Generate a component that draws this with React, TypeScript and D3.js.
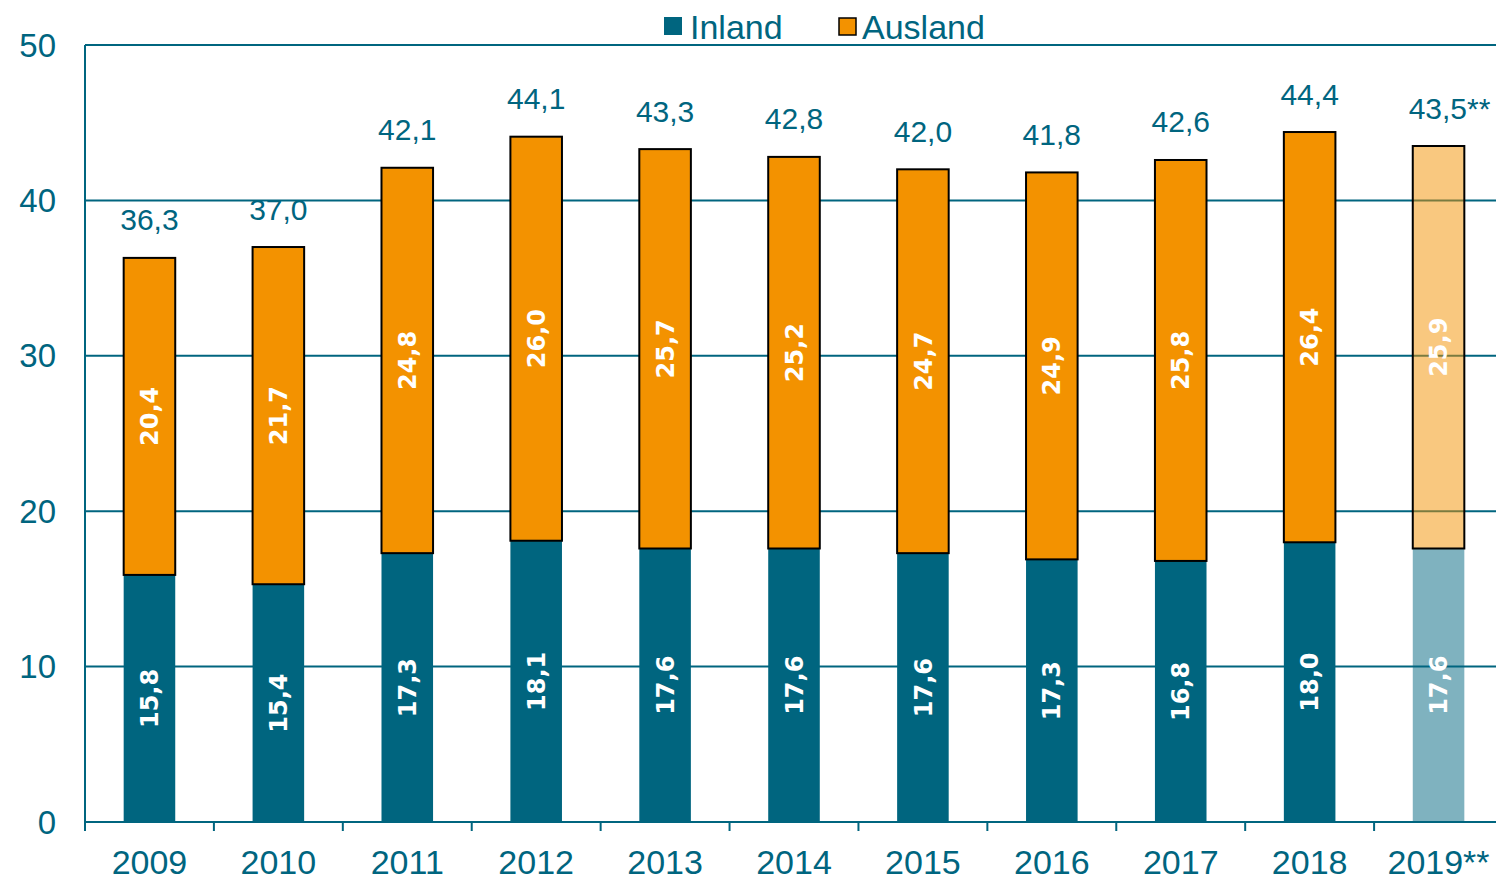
import React from "react";
import * as d3 from "d3";

const years = ["2009", "2010", "2011", "2012", "2013", "2014", "2015", "2016", "2017", "2018", "2019**"];
const inland = [15.8, 15.4, 17.3, 18.1, 17.6, 17.6, 17.6, 17.3, 16.8, 18.0, 17.6];
const ausland = [20.4, 21.7, 24.8, 26.0, 25.7, 25.2, 24.7, 24.9, 25.8, 26.4, 25.9];
const totals = [36.3, 37.0, 42.1, 44.1, 43.3, 42.8, 42.0, 41.8, 42.6, 44.4, 43.5];
const totalSuffix = ["", "", "", "", "", "", "", "", "", "", "**"];
const yTicks = [0, 10, 20, 30, 40, 50];

const W = 1496;
const H = 880;
const left = 85;
const right = 1496;
const bandEnd = 1503;
const top = 45;
const bottom = 822;
const TEAL = "#00657f";
const ORANGE = "#f39200";
const fmt = (v: number) => v.toFixed(1).replace(".", ",");

export default function App() {
  const x = d3.scaleBand<string>().domain(years).range([left, bandEnd]).paddingInner(0.6).paddingOuter(0.3);
  const band = d3.scaleBand<string>().domain(years).range([left, bandEnd]);
  const y = d3.scaleLinear().domain([0, 50]).range([bottom, top]);
  const bw = x.bandwidth();
  const font = "'Liberation Sans', Arial, sans-serif";
  const boldFont = "'DejaVu Sans', Verdana, sans-serif";

  return (
    <svg width={W} height={H} style={{ position: "absolute", left: 0, top: 0, background: "#fff" }}>
      {yTicks.map((t) => (
        <line key={t} x1={left} x2={right} y1={y(t)} y2={y(t)} stroke={TEAL} strokeWidth={2} />
      ))}
      {yTicks.map((t) => (
        <text key={"yl" + t} x={56} y={y(t)} dy="0.35em" textAnchor="end" fontSize={33} fill={TEAL} fontFamily={font}>
          {t}
        </text>
      ))}
      {years.map((yr, i) => {
        const x0 = x(yr)!;
        const op = i === years.length - 1 ? 0.5 : 1;
        const tot = totals[i];
        const base = tot - ausland[i];
        const cx = x0 + bw / 2;
        return (
          <g key={yr}>
            <rect x={x0} y={y(base)} width={bw} height={y(0) - y(base)} fill={TEAL} fillOpacity={op} />
            <rect
              x={x0}
              y={y(tot)}
              width={bw}
              height={y(base) - y(tot)}
              fill={ORANGE}
              fillOpacity={op}
              stroke="#000"
              strokeWidth={2}
            />
            <text
              transform={`translate(${cx},${(y(0) + y(base)) / 2}) rotate(-90)`}
              textAnchor="middle"
              dy="0.36em"
              fill="#fff"
              fontSize={24}
              fontWeight="bold"
              fontFamily={boldFont}
            >
              {fmt(inland[i])}
            </text>
            <text
              transform={`translate(${cx},${(y(base) + y(tot)) / 2}) rotate(-90)`}
              textAnchor="middle"
              dy="0.36em"
              fill="#fff"
              fontSize={24}
              fontWeight="bold"
              fontFamily={boldFont}
            >
              {fmt(ausland[i])}
            </text>
            <text
              x={totalSuffix[i] ? cx + 11 : cx}
              y={y(tot) - 38}
              dy="0.35em"
              textAnchor="middle"
              fill={TEAL}
              fontSize={30}
              fontFamily={font}
            >
              {fmt(tot) + totalSuffix[i]}
            </text>
            <text x={band(yr)! + band.bandwidth() / 2} y={862} dy="0.35em" textAnchor="middle" fill={TEAL} fontSize={34} fontFamily={font}>
              {yr}
            </text>
          </g>
        );
      })}
      <line x1={left} x2={left} y1={top} y2={bottom + 9} stroke={TEAL} strokeWidth={2} />
      <line x1={left} x2={right} y1={bottom} y2={bottom} stroke={TEAL} strokeWidth={2} />
      {years.map((yr) => (
        <line key={"t" + yr} x1={band(yr)!} x2={band(yr)!} y1={bottom} y2={bottom + 9} stroke={TEAL} strokeWidth={2} />
      ))}
      <rect x={664} y={17} width={18} height={18} fill={TEAL} />
      <text x={690} y={39} fontSize={34} fill={TEAL} fontFamily={font}>
        Inland
      </text>
      <rect x={839} y={18} width={17} height={17} fill={ORANGE} stroke="#000" strokeWidth={1.5} />
      <text x={862} y={39} fontSize={34} fill={TEAL} fontFamily={font}>
        Ausland
      </text>
    </svg>
  );
}
